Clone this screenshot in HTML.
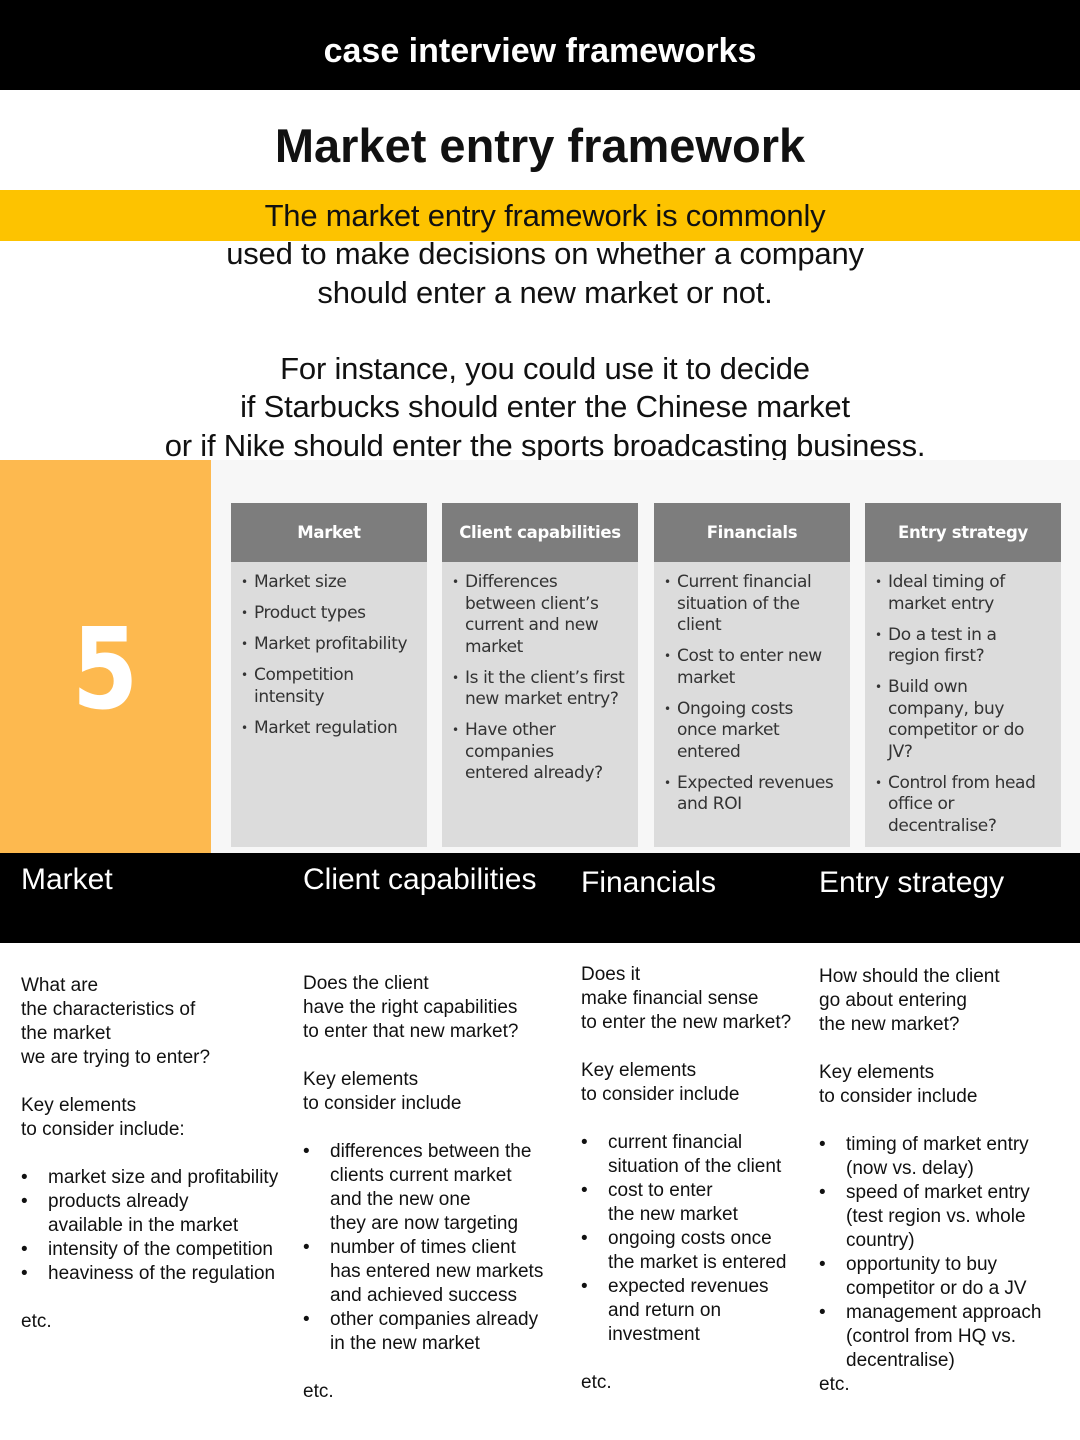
<!DOCTYPE html>
<html><head><meta charset="utf-8"><style>
*{margin:0;padding:0;box-sizing:border-box}
body{width:1080px;height:1440px;background:#fff;position:relative;overflow:hidden;font-family:"Liberation Sans",Arial,sans-serif;color:#111}
.abs{position:absolute}
.top{left:0;top:0;width:1080px;height:90px;background:#000;color:#fff;font-weight:bold;font-size:34px;text-align:center;line-height:102px}
.title{left:0;top:118px;width:1080px;text-align:center;font-weight:bold;font-size:47px}
.yb{left:0;top:190px;width:1080px;height:51px;background:#fdc300}
.intro{left:5px;top:197px;width:1080px;text-align:center;font-size:31px;line-height:38.3px;letter-spacing:-0.2px}
.orange{left:0;top:460px;width:211px;height:394px;background:#fdb94f}
.five{left:72px;top:590px;color:#fff;font-family:"DejaVu Sans",sans-serif;font-weight:bold;font-size:112px;line-height:160px;transform:scaleX(0.85);transform-origin:left}
.panel{left:211px;top:460px;width:869px;height:394px;background:#f7f7f7}
.card{top:503px;width:196px;height:344px;background:#dcdcdc}
.card .h{height:59px;background:#7d7d7d;color:#fff;font-family:"DejaVu Sans",sans-serif;font-weight:bold;font-size:16.5px;text-align:center;line-height:59px;letter-spacing:-0.3px}
.card ul{list-style:none;padding:10px 0 0 10px;font-family:"DejaVu Sans",sans-serif;font-size:17px;line-height:21.5px;color:#333;letter-spacing:-0.4px;white-space:nowrap}
.card li{position:relative;padding-left:13px;margin-bottom:9.5px}
.card li:before{content:"•";position:absolute;left:0;font-size:12px}
.band{left:0;top:853px;width:1080px;height:90px;background:#000}
.bh{color:#fff;font-size:30px;line-height:36px}
.col{font-size:19px;line-height:24px;color:#111;white-space:nowrap}
.col .b{position:relative;padding-left:27px}
.col .b:before{content:"•";position:absolute;left:0}
</style></head><body>
<div class="abs top">case interview frameworks</div>
<div class="abs title">Market entry framework</div>
<div class="abs yb"></div>
<div class="abs intro">The market entry framework is commonly<br>used to make decisions on whether a company<br>should enter a new market or not.<br><br>For instance, you could use it to decide<br>if Starbucks should enter the Chinese market<br>or if Nike should enter the sports broadcasting business.</div>
<div class="abs orange"></div>
<div class="abs five">5</div>
<div class="abs panel"></div>
<div class="abs card" style="left:231px"><div class="h">Market</div><ul>
<li>Market size</li><li>Product types</li><li>Market profitability</li><li>Competition<br>intensity</li><li>Market regulation</li></ul></div>
<div class="abs card" style="left:442px"><div class="h">Client capabilities</div><ul>
<li>Differences<br>between client’s<br>current and new<br>market</li><li>Is it the client’s first<br>new market entry?</li><li>Have other<br>companies<br>entered already?</li></ul></div>
<div class="abs card" style="left:654px"><div class="h">Financials</div><ul>
<li>Current financial<br>situation of the<br>client</li><li>Cost to enter new<br>market</li><li>Ongoing costs<br>once market<br>entered</li><li>Expected revenues<br>and ROI</li></ul></div>
<div class="abs card" style="left:865px"><div class="h">Entry strategy</div><ul>
<li>Ideal timing of<br>market entry</li><li>Do a test in a<br>region first?</li><li>Build own<br>company, buy<br>competitor or do<br>JV?</li><li>Control from head<br>office or<br>decentralise?</li></ul></div>
<div class="abs band"></div>
<div class="abs bh" style="left:21px;top:862px">Market</div>
<div class="abs bh" style="left:303px;top:862px">Client capabilities</div>
<div class="abs bh" style="left:581px;top:865px">Financials</div>
<div class="abs bh" style="left:819px;top:865px">Entry strategy</div>
<div class="abs col" style="left:21px;top:974px">What are<br>the characteristics of<br>the market<br>we are trying to enter?<br><br>Key elements<br>to consider include:<br><br>
<div class="b">market size and profitability</div><div class="b">products already<br>available in the market</div><div class="b">intensity of the competition</div><div class="b">heaviness of the regulation</div><br>etc.</div>
<div class="abs col" style="left:303px;top:972px">Does the client<br>have the right capabilities<br>to enter that new market?<br><br>Key elements<br>to consider include<br><br>
<div class="b">differences between the<br>clients current market<br>and the new one<br>they are now targeting</div><div class="b">number of times client<br>has entered new markets<br>and achieved success</div><div class="b">other companies already<br>in the new market</div><br>etc.</div>
<div class="abs col" style="left:581px;top:963px">Does it<br>make financial sense<br>to enter the new market?<br><br>Key elements<br>to consider include<br><br>
<div class="b">current financial<br>situation of the client</div><div class="b">cost to enter<br>the new market</div><div class="b">ongoing costs once<br>the market is entered</div><div class="b">expected revenues<br>and return on<br>investment</div><br>etc.</div>
<div class="abs col" style="left:819px;top:965px">How should the client<br>go about entering<br>the new market?<br><br>Key elements<br>to consider include<br><br>
<div class="b">timing of market entry<br>(now vs. delay)</div><div class="b">speed of market entry<br>(test region vs. whole<br>country)</div><div class="b">opportunity to buy<br>competitor or do a JV</div><div class="b">management approach<br>(control from HQ vs.<br>decentralise)</div>etc.</div>
</body></html>
